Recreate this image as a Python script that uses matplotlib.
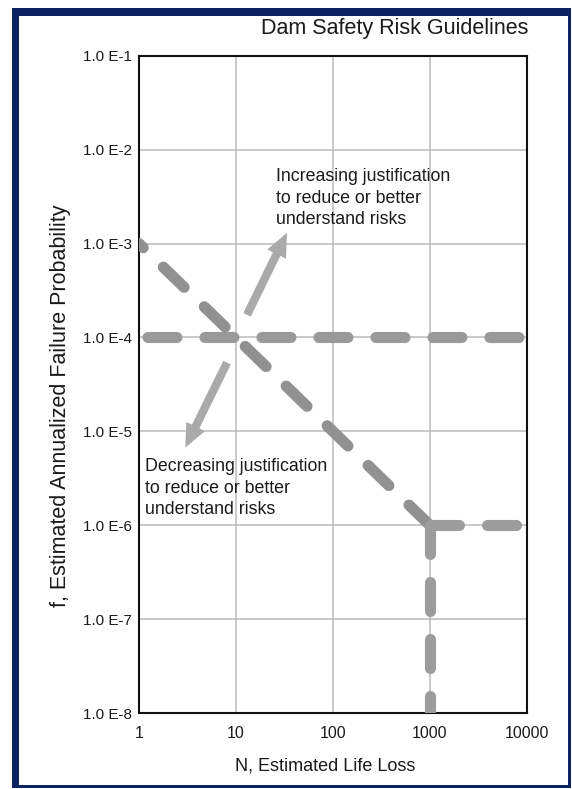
import matplotlib.pyplot as plt
from matplotlib.patches import Rectangle

# Axis ranges and tick labels
n_ticks = [1, 10, 100, 1000, 10000]
n_tick_labels = ["1", "10", "100", "1000", "10000"]
f_ticks = [1e-1, 1e-2, 1e-3, 1e-4, 1e-5, 1e-6, 1e-7, 1e-8]
f_tick_labels = ["1.0 E-1", "1.0 E-2", "1.0 E-3", "1.0 E-4",
                 "1.0 E-5", "1.0 E-6", "1.0 E-7", "1.0 E-8"]

# Guideline segments (N, f)
societal_n = [1000, 1]
societal_f = [1e-6, 1e-3]
individual_n = [1, 10000]
individual_f = [1e-4, 1e-4]
tail_h_n = [1000, 10000]
tail_h_f = [1e-6, 1e-6]
tail_v_n = [1000, 1000]
tail_v_f = [1e-6, 1e-8]

# Arrow endpoints (start, tip)
up_arrow = [(13.0, 1.74e-4), (33.6, 1.3e-3)]
down_arrow = [(8.1, 5.4e-5), (3.0, 6.7e-6)]

plt.rcParams["font.family"] = ["Liberation Sans", "DejaVu Sans"]

fig = plt.figure(figsize=(5.72, 7.89), dpi=100)
ax = fig.add_axes([0.243, 0.0963, 0.678, 0.833])
ax.set_xscale("log")
ax.set_yscale("log")
ax.set_xlim(1, 10000)
ax.set_ylim(1e-8, 1e-1)

ax.set_xticks(n_ticks)
ax.set_xticklabels(n_tick_labels)
ax.set_yticks(f_ticks)
ax.set_yticklabels(f_tick_labels)
ax.minorticks_off()
ax.tick_params(length=0, labelsize=11, colors="#1a1a1a")
ax.tick_params(axis="x", pad=9, labelsize=11.5)
ax.tick_params(axis="y", pad=5)
ax.grid(True, color="#bababa", linewidth=1.1)
ax.set_axisbelow(True)
for s in ax.spines.values():
    s.set_linewidth(1.5)
    s.set_color("#111111")

# thick round-capped dashes; pattern in units of line width
dash = (2.61, 2.52)
line_kw = dict(linewidth=8, dash_capstyle="round", solid_capstyle="round",
               zorder=3, clip_on=True)
ax.plot(individual_n, individual_f, color="#999999",
        linestyle=(4.37, dash), **line_kw)
ax.plot(societal_n, societal_f, color="#919191", linestyle=(0, dash), **line_kw)
ax.plot(tail_h_n, tail_h_f, color="#9c9c9c", linestyle=(0, dash), **line_kw)
ax.plot(tail_v_n, tail_v_f, color="#9c9c9c", linestyle=(0, dash), **line_kw)

arrow_kw = dict(width=6, headwidth=15, headlength=17, shrink=0,
                color="#aaaaaa", linewidth=0)
ax.annotate("", xy=up_arrow[1], xytext=up_arrow[0], arrowprops=arrow_kw, zorder=4)
ax.annotate("", xy=down_arrow[1], xytext=down_arrow[0], arrowprops=arrow_kw, zorder=4)

ax.text(0.353, 0.829, "Increasing justification\nto reduce or better\nunderstand risks",
        transform=ax.transAxes, ha="left", va="top", fontsize=12.8,
        linespacing=1.35, color="#1a1a1a", zorder=5)
ax.text(0.016, 0.388, "Decreasing justification\nto reduce or better\nunderstand risks",
        transform=ax.transAxes, ha="left", va="top", fontsize=12.8,
        linespacing=1.36, color="#1a1a1a", zorder=5)

ax.set_xlabel("N, Estimated Life Loss", fontsize=13, color="#1a1a1a")
ax.xaxis.set_label_coords(0.479, -0.067)
ax.set_ylabel("f, Estimated Annualized Failure Probability", fontsize=15.5,
              color="#1a1a1a")
ax.yaxis.set_label_coords(-0.175, 0.467)

fig.text(0.923, 0.9645, "Dam Safety Risk Guidelines", ha="right", va="center",
         fontsize=15.5, color="#1a1a1a")

# Navy frame around the figure
navy = "#0b2361"
W, H = 572, 789
for (x0, y0, w, h) in [(12, 8, 7, 779), (12, 8, 557, 8),
                       (568, 8, 3, 779), (12, 785, 559, 3)]:
    fig.patches.append(Rectangle((x0 / W, 1 - (y0 + h) / H), w / W, h / H,
                                 transform=fig.transFigure, color=navy,
                                 linewidth=0))

fig.savefig("out.png", dpi=100)
